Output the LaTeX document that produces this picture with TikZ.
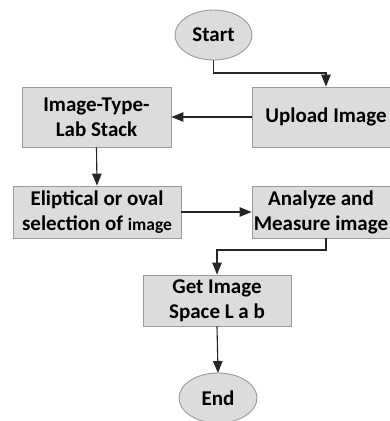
\documentclass[tikz,border=0pt]{standalone}
\usepackage{fontspec}
\setmainfont{Carlito}
\usetikzlibrary{arrows.meta}
\definecolor{boxfill}{HTML}{DCDCDC}
\definecolor{boxline}{HTML}{9A9A9A}
\newcommand{\flowfont}{\fontsize{21}{25}\selectfont\bfseries}
\tikzset{
  procbox/.style={draw=boxline, fill=boxfill, line width=0.9pt, minimum height=#1,
    align=center, inner sep=1pt, font=\flowfont},
  procbox/.default=60pt,
  termtext/.style={font=\flowfont},
  termshape/.style={draw=boxline, fill=boxfill, line width=0.9pt},
  flow/.style={line width=1.1pt, draw=black!85, -{Triangle[length=12pt,width=9.5pt]}}
}
\begin{document}
\begin{tikzpicture}[x=1pt, y=-1pt]
\useasboundingbox (0,0) rectangle (390,421);
\clip (0,0) rectangle (390,421);
\fill[white] (0,0) rectangle (390,421);
% terminals
\draw[termshape] (213.5,35) ellipse [x radius=38.5, y radius=25];
\node[termtext] (start) at (213.5,35) {Start};
\coordinate (startb) at (213.5,60);
\draw[termshape] (218,398) ellipse [x radius=39, y radius=25];
\node[termtext] (end) at (218,398) {End};
\coordinate (endt) at (218,373);
% process boxes
\node[procbox, minimum width=148pt] (upload) at (326,117) {Upload Image};
\node[procbox, minimum width=149pt] (labstack) at (96.5,117) {Image-Type-\\Lab Stack};
\node[procbox=52pt, minimum width=168pt] (select) at (97,212) {Eliptical or oval\\selection of {\fontsize{17.5}{25}\selectfont image}};
\node[procbox=52pt, minimum width=148pt] (measure) at (326,212) {Analyze and\hspace*{10pt}\\Measure image\hspace*{10pt}};
\node[procbox=51pt, minimum width=148pt] (space) at (217,300.5) {Get Image\\Space L a b};
% connectors
\draw[flow] (startb) |- (326,73) -- (upload.north);
\draw[flow] (upload.west) -- (labstack.east);
\draw[flow] (labstack.south) -- (select.north);
\draw[flow] (select.east) -- (measure.west);
\draw[flow] (measure.south) |- (217,250) -- (space.north);
\draw[flow] (space.south) -- (endt);
\end{tikzpicture}
\end{document}
